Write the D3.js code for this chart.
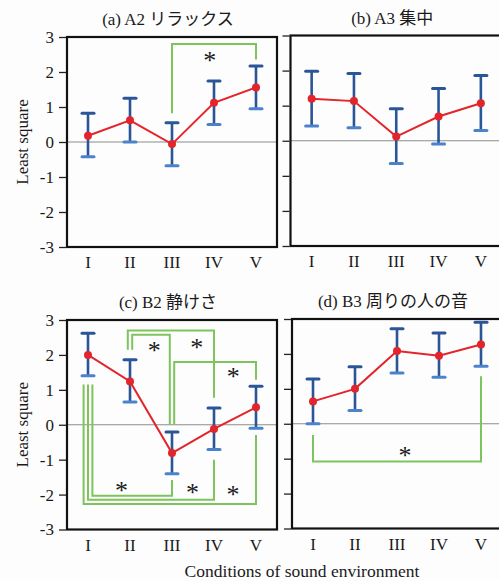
<!DOCTYPE html>
<html>
<head>
<meta charset="utf-8">
<script src="https://cdn.jsdelivr.net/npm/d3@7"></script>
<style>
  body { margin: 0; background: #fdfdfd; }
  text { font-family: "Liberation Serif", "Noto Sans CJK JP", serif; fill: #1a1a1a; }
</style>
</head>
<body>
<script>
// Least square means with error bars, four panels

// Data
var categories = ["I", "II", "III", "IV", "V"];
var yTicks = [3, 2, 1, 0, -1, -2, -3];
var titles = ["(a) A2 リラックス", "(b) A3 集中", "(c) B2 静けさ", "(d) B3 周りの人の音"];

var meanA  = [0.18, 0.62, -0.06, 1.12, 1.56];
var upperA = [0.82, 1.25, 0.55, 1.74, 2.17];
var lowerA = [-0.42, 0.0, -0.68, 0.50, 0.95];

var meanB  = [1.20, 1.13, 0.12, 0.69, 1.07];
var upperB = [1.98, 1.92, 0.91, 1.49, 1.86];
var lowerB = [0.42, 0.37, -0.65, -0.09, 0.29];

var meanC  = [2.00, 1.24, -0.81, -0.12, 0.50];
var upperC = [2.62, 1.86, -0.21, 0.48, 1.10];
var lowerC = [1.40, 0.65, -1.40, -0.71, -0.10];

var meanD  = [0.64, 1.00, 2.08, 1.95, 2.27];
var upperD = [1.28, 1.63, 2.72, 2.60, 2.91];
var lowerD = [0.00, 0.38, 1.45, 1.33, 1.65];

// significance brackets: pair, bracket level, end of each leg (all in least square units)
// lane = which of the nested legs at a category
var bracketsA = [
  {from: "III", to: "V", level: 2.8, endFrom: 0.82, endTo: 2.36, laneFrom: 0, laneTo: 0}
];
var bracketsB = [];
var bracketsC = [
  {from: "II", to: "IV", level: 2.70, endFrom: 2.15, endTo: 0.77, laneFrom: -1, laneTo: 0},
  {from: "II", to: "III", level: 2.58, endFrom: 2.15, endTo: 0.0, laneFrom: 1, laneTo: -1},
  {from: "III", to: "V", level: 1.80, endFrom: 0.0, endTo: 1.29, laneFrom: 1, laneTo: 0},
  {from: "I", to: "III", level: -2.03, endFrom: 1.15, endTo: -1.58, laneFrom: 2, laneTo: 0},
  {from: "I", to: "IV", level: -2.15, endFrom: 1.15, endTo: -1.0, laneFrom: 0, laneTo: 0},
  {from: "I", to: "V", level: -2.27, endFrom: 1.15, endTo: -0.29, laneFrom: -2, laneTo: 0}
];
var bracketsD = [
  {from: "I", to: "V", level: -1.08, endFrom: -0.32, endTo: 1.36, laneFrom: 0, laneTo: 0}
];

// asterisks: position along categories (0 = I ... 4 = V) and value
var starsA = [{pos: 2.9, value: 2.43}];
var starsB = [];
var starsC = [
  {pos: 1.58, value: 2.24}, {pos: 2.59, value: 2.32}, {pos: 3.46, value: 1.48},
  {pos: 0.80, value: -1.77}, {pos: 2.49, value: -1.84}, {pos: 3.45, value: -1.91}
];
var starsD = [{pos: 2.19, value: -0.81}];

// Layout
var svgWidth = 499;
var svgHeight = 581;

var panels = [
  {title: titles[0], mean: meanA, upper: upperA, lower: lowerA, brackets: bracketsA, stars: starsA,
   x0: 67, x1: 277, y0: 37, y1: 247, labels: true},
  {title: titles[1], mean: meanB, upper: upperB, lower: lowerB, brackets: bracketsB, stars: starsB,
   x0: 290.5, x1: 502, y0: 35.5, y1: 246, labels: false},
  {title: titles[2], mean: meanC, upper: upperC, lower: lowerC, brackets: bracketsC, stars: starsC,
   x0: 67, x1: 277, y0: 320, y1: 529.5, labels: true},
  {title: titles[3], mean: meanD, upper: upperD, lower: lowerD, brackets: bracketsD, stars: starsD,
   x0: 292, x1: 502, y0: 319, y1: 528.5, labels: false}
];

var svg = d3.select("body")
  .append("svg")
  .attr("width", svgWidth)
  .attr("height", svgHeight);

svg.append("rect")
  .attr("width", svgWidth)
  .attr("height", svgHeight)
  .attr("fill", "#fdfdfd");

var blueDark = "#2a5597";
var blueLight = "#4b82cc";
var red = "#e3242b";
var green = "#7ec45c";
var laneGap = 2.2;

panels.forEach(function(p) {
  var xScale = d3.scaleBand()
    .domain(categories)
    .range([p.x0, p.x1]);
  var cx = function(c) { return xScale(c) + xScale.bandwidth() / 2; };

  var yScale = d3.scaleLinear()
    .domain([-3, 3])
    .range([p.y1, p.y0]);

  var posScale = d3.scaleLinear()
    .domain([0, 4])
    .range([cx(categories[0]), cx(categories[4])]);

  var g = svg.append("g");

  var rows = categories.map(function(c, i) {
    return {cat: c, mean: p.mean[i], upper: p.upper[i], lower: p.lower[i]};
  });

  // zero line
  g.append("line")
    .attr("x1", p.x0).attr("x2", p.x1)
    .attr("y1", yScale(0)).attr("y2", yScale(0))
    .attr("stroke", "#8c8c8c")
    .attr("stroke-width", 1.2);

  // significance brackets
  g.selectAll(".bracket")
    .data(p.brackets)
    .enter()
    .append("path")
    .attr("class", "bracket")
    .attr("fill", "none")
    .attr("stroke", green)
    .attr("stroke-width", 2)
    .attr("d", function(b) {
      var xa = cx(b.from) + b.laneFrom * laneGap;
      var xb = cx(b.to) + b.laneTo * laneGap;
      return "M" + xa + "," + yScale(b.endFrom) +
        "V" + yScale(b.level) + "H" + xb + "V" + yScale(b.endTo);
    });

  // error bars
  var bars = g.selectAll(".err")
    .data(rows)
    .enter()
    .append("g")
    .attr("class", "err");

  bars.append("line")
    .attr("x1", d => cx(d.cat)).attr("x2", d => cx(d.cat))
    .attr("y1", d => yScale(d.upper)).attr("y2", d => yScale(d.lower))
    .attr("stroke", blueDark)
    .attr("stroke-width", 2.6);

  bars.append("line")
    .attr("x1", d => cx(d.cat) - 6).attr("x2", d => cx(d.cat) + 6)
    .attr("y1", d => yScale(d.upper)).attr("y2", d => yScale(d.upper))
    .attr("stroke", blueDark)
    .attr("stroke-width", 3)
    .attr("stroke-linecap", "round");

  bars.append("line")
    .attr("x1", d => cx(d.cat) - 6).attr("x2", d => cx(d.cat) + 6)
    .attr("y1", d => yScale(d.lower)).attr("y2", d => yScale(d.lower))
    .attr("stroke", blueLight)
    .attr("stroke-width", 3)
    .attr("stroke-linecap", "round");

  // mean line and points
  var line = d3.line()
    .x(d => cx(d.cat))
    .y(d => yScale(d.mean));

  g.append("path")
    .datum(rows)
    .attr("d", line)
    .attr("fill", "none")
    .attr("stroke", red)
    .attr("stroke-width", 2);

  g.selectAll(".pt")
    .data(rows)
    .enter()
    .append("circle")
    .attr("class", "pt")
    .attr("cx", d => cx(d.cat))
    .attr("cy", d => yScale(d.mean))
    .attr("r", 4)
    .attr("fill", red);

  // asterisks
  g.selectAll(".star")
    .data(p.stars)
    .enter()
    .append("text")
    .attr("class", "star")
    .attr("x", d => posScale(d.pos))
    .attr("y", d => yScale(d.value) + 12)
    .attr("text-anchor", "middle")
    .attr("font-size", 26)
    .text("*");

  // frame
  g.append("rect")
    .attr("x", p.x0).attr("y", p.y0)
    .attr("width", p.x1 - p.x0).attr("height", p.y1 - p.y0)
    .attr("fill", "none")
    .attr("stroke", "#111")
    .attr("stroke-width", 2.2);

  // axes
  var leftAxis = d3.axisLeft(yScale)
    .tickValues(yTicks)
    .tickSize(7)
    .tickPadding(5)
    .tickFormat(p.labels ? (d => String(d)) : "");

  var yAxisG = g.append("g")
    .attr("transform", `translate(${p.x0 - 1}, 0)`)
    .call(leftAxis);
  yAxisG.select(".domain").remove();
  yAxisG.selectAll("line").attr("stroke", "#222").attr("stroke-width", 1.3);
  yAxisG.selectAll("text")
    .attr("font-size", 17)
    .attr("font-family", "Liberation Serif")
    .attr("fill", "#1a1a1a");

  var bottomAxis = d3.axisBottom(xScale)
    .tickSize(0)
    .tickPadding(9);

  var xAxisG = g.append("g")
    .attr("transform", `translate(0, ${p.y1})`)
    .call(bottomAxis);
  xAxisG.select(".domain").remove();
  xAxisG.selectAll("text")
    .attr("font-size", 17)
    .attr("font-family", "Liberation Serif")
    .attr("fill", "#1a1a1a");

  // title
  g.append("text")
    .attr("x", (p.x0 + p.x1) / 2 - 4)
    .attr("y", p.y0 - 12)
    .attr("text-anchor", "middle")
    .attr("font-size", 17)
    .text(p.title);

  // y label
  if (p.labels) {
    g.append("text")
      .attr("transform", `translate(28, ${(p.y0 + p.y1) / 2}) rotate(-90)`)
      .attr("text-anchor", "middle")
      .attr("font-size", 17)
      .text("Least square");
  }
});

// x axis title
svg.append("text")
  .attr("x", 302)
  .attr("y", 577)
  .attr("text-anchor", "middle")
  .attr("font-size", 17.5)
  .text("Conditions of sound environment");
</script>
</body>
</html>
